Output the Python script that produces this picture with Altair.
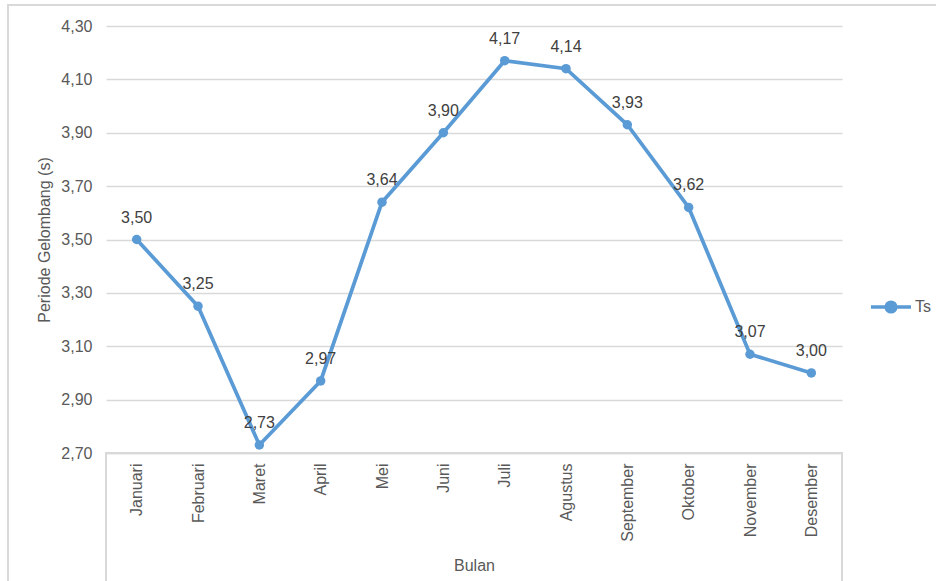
import altair as alt
import pandas as pd

months = ["Januari", "Februari", "Maret", "April", "Mei", "Juni", "Juli",
          "Agustus", "September", "Oktober", "November", "Desember"]
ts_values = [3.50, 3.25, 2.73, 2.97, 3.64, 3.90, 4.17, 4.14, 3.93, 3.62, 3.07, 3.00]
y_ticks = [2.70, 2.90, 3.10, 3.30, 3.50, 3.70, 3.90, 4.10, 4.30]
series_name = "Ts"

df = pd.DataFrame({"Bulan": months, "Ts": ts_values, "series": series_name})

FONT = "Liberation Sans"
BLUE = "#5B9BD5"
GRAY_TXT = "#595959"
GRID = "#D9D9D9"
FS = 16
W, H = 736, 427

x_enc = alt.X("Bulan:N", sort=months,
              scale=alt.Scale(type="point", padding=0.5),
              axis=alt.Axis(title="Bulan", labelAngle=270, labelPadding=10,
                            ticks=False, domainColor=GRID, domainWidth=1.5,
                            labelColor=GRAY_TXT, labelFontSize=FS, labelFont=FONT,
                            titleColor=GRAY_TXT, titleFontSize=FS, titleFont=FONT,
                            titleFontWeight="normal", titleY=112,
                            titleBaseline="middle", grid=False))
y_enc = alt.Y("Ts:Q",
              scale=alt.Scale(domain=[2.70, 4.30], nice=False, zero=False),
              axis=alt.Axis(title="Periode Gelombang (s)", values=y_ticks,
                            labelExpr="replace(format(datum.value, '.2f'), '.', ',')",
                            domain=False, ticks=False, labelPadding=14,
                            gridColor=GRID, gridWidth=1.5,
                            labelColor=GRAY_TXT, labelFontSize=FS, labelFont=FONT,
                            titleColor=GRAY_TXT, titleFontSize=FS, titleFont=FONT,
                            titleFontWeight="normal", titleX=-62, titleY=H / 2,
                            titleAngle=270, titleAlign="center",
                            titleBaseline="middle"))

color_enc = alt.Color("series:N",
                      scale=alt.Scale(domain=[series_name], range=[BLUE]),
                      legend=alt.Legend(title=None, orient="none",
                                        legendX=763, legendY=259,
                                        symbolType="M-1,0L1,0M-0.24,0A0.24,0.24 0 1,1 0.24,0A0.24,0.24 0 1,1 -0.24,0",
                                        symbolSize=1600, symbolStrokeWidth=3.5,
                                        symbolFillColor=BLUE, symbolStrokeColor=BLUE,
                                        labelColor=GRAY_TXT, labelFontSize=FS,
                                        labelFont=FONT, labelOffset=2))

base = alt.Chart(df)

line = base.mark_line(strokeWidth=3.75).encode(x=x_enc, y=y_enc, color=color_enc)
points = base.mark_point(filled=True, size=90, opacity=1).encode(
    x=x_enc, y=y_enc,
    color=alt.Color("series:N", scale=alt.Scale(domain=[series_name], range=[BLUE]), legend=None))
labels = base.transform_calculate(
    lab="replace(format(datum.Ts, '.2f'), '.', ',')"
).mark_text(dy=-22, fontSize=FS, font=FONT, color="#404040", baseline="middle").encode(
    x=x_enc, y=y_enc, text="lab:N")

cat_box = base.mark_rect(fill=None, stroke=GRID, strokeWidth=1.5, clip=False).encode(
    x=alt.value(0), x2=alt.value(W), y=alt.value(H), y2=alt.value(H + 200))
outer_box = base.mark_rect(fill=None, stroke=GRID, strokeWidth=1.5, clip=False).encode(
    x=alt.value(-98), x2=alt.value(W + 200), y=alt.value(-21), y2=alt.value(H + 300))

chart = alt.layer(outer_box, cat_box, line, points, labels).properties(
    width=W, height=H,
    autosize=alt.AutoSizeParams(type="none"),
    padding={"left": 106, "top": 26, "right": 94, "bottom": 128},
    background="white",
).configure_view(stroke=None)

chart.save("out.html", embed_options={"renderer": "svg", "actions": False})
